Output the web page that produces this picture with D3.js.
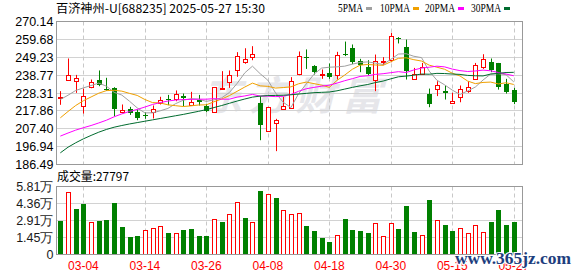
<!DOCTYPE html>
<html>
<head>
<meta charset="utf-8">
<script src="https://cdn.jsdelivr.net/npm/d3@7"></script>
<style>
body { margin: 0; background: #fff; }
svg { display: block; }
.lbl { font-family: "Liberation Sans", Arial, sans-serif; }
</style>
</head>
<body>
<div id="chart"></div>
<script>
var dates = ["02-27", "02-28", "03-03", "03-04", "03-05", "03-06", "03-07", "03-10", "03-11", "03-12",
    "03-13", "03-14", "03-17", "03-18", "03-19", "03-20", "03-21", "03-24", "03-25", "03-26",
    "03-27", "03-28", "03-31", "04-01", "04-02", "04-03", "04-07", "04-08", "04-09", "04-10",
    "04-11", "04-14", "04-15", "04-16", "04-17", "04-18", "04-21", "04-22", "04-23", "04-24",
    "04-25", "04-28", "04-29", "04-30", "05-06", "05-07", "05-08", "05-09", "05-12", "05-13",
    "05-14", "05-15", "05-16", "05-19", "05-20", "05-21", "05-22", "05-23", "05-26", "05-27"];

var openP = [225.3, 236.0, 235.4, 221.0, 232.1, 236.0, 230.5, 231.3, 217.1, 219.2,
    217.3, 215.5, 217.1, 222.6, 224.7, 224.9, 226.3, 221.6, 224.5, 220.8,
    217.3, 231.1, 235.0, 241.5, 246.3, 249.5, 222.2, 206.0, 210.9, 219.4,
    219.6, 238.9, 249.5, 244.4, 238.9, 240.3, 239.1, 251.2, 254.9, 246.9,
    243.6, 236.0, 246.7, 247.7, 260.2, 255.3, 236.6, 239.5, 228.0, 230.7,
    229.2, 222.7, 226.1, 229.4, 236.6, 243.4, 246.5, 245.6, 233.3, 230.3];
var highP = [229.4, 248.5, 238.9, 230.9, 236.2, 241.5, 237.2, 231.7, 221.6, 220.2,
    218.7, 217.1, 221.0, 226.1, 227.2, 229.8, 228.0, 229.0, 227.2, 222.0,
    231.7, 241.1, 241.5, 252.2, 254.5, 255.7, 226.5, 220.2, 213.2, 226.1,
    237.6, 252.6, 253.8, 244.6, 242.1, 245.6, 252.4, 258.4, 256.7, 248.3,
    247.5, 250.8, 249.3, 263.5, 261.0, 259.6, 243.0, 245.9, 230.9, 235.2,
    232.9, 228.4, 232.7, 235.2, 245.9, 251.0, 248.5, 245.9, 236.6, 231.3];
var lowP = [221.4, 235.6, 228.4, 216.3, 231.1, 232.3, 229.6, 214.7, 216.5, 215.5,
    212.4, 213.2, 213.4, 221.6, 221.2, 223.5, 220.6, 221.0, 221.0, 217.1,
    217.1, 230.9, 231.3, 237.8, 245.4, 247.5, 200.7, 205.8, 194.3, 219.4,
    219.4, 238.7, 242.4, 239.1, 236.6, 236.6, 236.2, 249.9, 245.2, 240.5,
    238.7, 229.4, 244.6, 246.3, 257.3, 236.2, 236.6, 239.1, 220.0, 226.5,
    224.5, 222.6, 222.9, 228.4, 236.2, 242.4, 240.5, 230.3, 228.0, 221.8];
var closeP = [226.1, 238.9, 237.2, 226.6, 234.8, 233.1, 230.0, 219.0, 218.5, 217.1,
    213.6, 215.2, 219.0, 224.5, 224.1, 227.6, 225.3, 223.3, 223.3, 217.7,
    231.7, 231.5, 238.9, 249.9, 248.3, 251.4, 209.3, 220.2, 212.8, 221.0,
    235.6, 249.7, 249.1, 240.9, 239.3, 238.2, 250.6, 250.8, 246.9, 244.4,
    239.7, 247.1, 247.1, 261.6, 259.8, 241.1, 239.3, 243.4, 222.0, 233.1,
    227.8, 223.9, 230.7, 231.9, 244.6, 248.3, 241.7, 231.7, 228.8, 223.5];

var ma5 = [224.5, 227.0, 229.8, 231.3, 232.7, 234.1, 232.3, 228.7, 227.1, 223.5,
    219.6, 216.7, 216.7, 217.9, 219.3, 222.1, 224.1, 225.0, 224.7, 223.4,
    224.3, 225.5, 228.6, 233.9, 240.1, 244.0, 239.6, 235.8, 228.4, 222.9,
    219.8, 227.9, 233.6, 239.3, 242.9, 243.4, 243.6, 244.0, 245.2, 246.2,
    246.5, 245.8, 245.0, 248.0, 251.1, 251.3, 249.8, 249.0, 241.1, 235.8,
    233.1, 230.0, 227.5, 229.5, 231.8, 235.9, 239.4, 239.6, 239.0, 234.8];
var ma10 = [213.8, 217.5, 221.0, 223.8, 226.0, 228.2, 229.7, 229.9, 229.4, 228.1,
    226.9, 224.5, 222.7, 222.5, 221.4, 220.9, 220.4, 220.8, 221.3, 221.4,
    223.2, 224.8, 226.8, 229.3, 231.8, 234.1, 232.5, 232.2, 231.2, 231.5,
    231.9, 233.7, 234.7, 233.8, 232.9, 231.6, 235.7, 238.8, 242.2, 244.6,
    245.0, 244.7, 244.5, 246.6, 248.6, 248.9, 247.8, 247.0, 244.6, 243.4,
    242.2, 239.9, 238.3, 235.3, 233.8, 234.5, 234.7, 233.6, 234.3, 233.3];
var ma20 = [203.1, 204.9, 206.6, 208.0, 209.3, 210.8, 212.4, 214.4, 216.1, 217.5,
    218.7, 220.1, 221.6, 222.7, 223.6, 224.2, 224.5, 224.6, 224.7, 224.7,
    225.0, 224.7, 224.7, 225.9, 226.6, 227.5, 226.5, 226.5, 226.2, 226.4,
    227.5, 229.3, 230.8, 231.6, 232.3, 232.9, 234.1, 235.5, 236.7, 238.0,
    238.4, 239.2, 239.6, 240.2, 240.8, 240.3, 241.8, 242.9, 243.4, 244.0,
    243.6, 242.3, 241.4, 240.9, 241.2, 241.7, 241.3, 240.3, 239.4, 238.4];
var ma30 = [193.3, 196.6, 199.2, 201.5, 203.5, 205.4, 207.0, 208.3, 209.3, 210.2,
    211.0, 211.8, 212.6, 213.4, 214.2, 215.0, 215.8, 216.7, 217.6, 218.6,
    219.8, 221.0, 222.3, 223.6, 224.8, 225.9, 226.5, 226.8, 226.9, 227.0,
    227.3, 227.7, 228.1, 228.5, 228.7, 228.9, 229.6, 230.6, 231.6, 232.5,
    233.3, 234.4, 235.3, 236.6, 237.8, 238.2, 238.7, 239.4, 239.3, 239.8,
    239.7, 239.4, 239.2, 238.6, 238.4, 238.3, 239.4, 239.8, 240.3, 240.4];

// 成交量 (万)
var vol = [2.85, 5.36, 3.86, 4.29, 2.76, 2.85, 2.93, 4.37, 2.34, 1.49,
    1.58, 2.09, 2.23, 2.40, 1.83, 1.83, 2.09, 2.17, 1.58, 1.58,
    3.07, 2.76, 3.44, 4.51, 3.10, 2.76, 5.39, 5.13, 4.79, 3.84,
    3.44, 3.58, 2.43, 2.00, 1.38, 1.07, 1.64, 3.02, 2.09, 2.00,
    1.83, 2.65, 1.55, 2.65, 2.17, 4.12, 1.92, 1.64, 4.62, 2.93,
    2.51, 2.00, 2.23, 1.83, 2.48, 1.92, 2.76, 3.78, 2.51, 2.78];
var volDir = "g r g g r g g g g g g r r r g r g g g g r g r r g r g r g r r r g g g g r g g g g r r r g g g r g r g g r r r r g g g g".split(" ");

var priceTicks = [270.14, 259.68, 249.23, 238.77, 228.31, 217.86, 207.40, 196.94, 186.49];
var volTicks = [0, 1.45, 2.91, 4.36, 5.81];
var dateTicks = ["03-04", "03-14", "03-26", "04-08", "04-18", "04-30", "05-15", "05-27"];

var maNames = ["5PMA", "10PMA", "20PMA", "30PMA"];
var maColors = ["#a0a0a0", "#f0a000", "#ff00ff", "#006b2e"];
var maData = [ma5, ma10, ma20, ma30];

var W = 578, H = 276;
var left = 56.5, right = 522.5;
var red = "#ff0000", green = "#008000";

var svg = d3.select("#chart").append("svg")
    .attr("width", W)
    .attr("height", H);

svg.append("rect").attr("width", W).attr("height", H).attr("fill", "#fff");

var xScale = d3.scaleBand()
    .domain(dates)
    .range([left, left + dates.length * 7.685]);
var cx = function (d) { return Math.round(xScale(d) + xScale.bandwidth() / 2) + 0.5; };

var yScale = d3.scaleLinear().domain([186.49, 270.14]).range([164.5, 21.5]);
var vScale = d3.scaleLinear().domain([0, 5.81]).range([254.5, 186.5]);

// watermark
svg.append("text")
    .attr("x", 292)
    .attr("y", 110)
    .attr("text-anchor", "middle")
    .style("font-family", "Noto Sans CJK SC")
    .style("font-size", "40px")
    .style("font-weight", "bold")
    .style("font-style", "italic")
    .attr("fill", "#e6e6ea")
    .attr("textLength", 180)
    .text("东方财富");

// grid lines
function grid(ticks, scale, y0, y1) {
    svg.append("g").selectAll("line")
        .data(ticks.slice(1, -1))
        .enter().append("line")
        .attr("x1", left).attr("x2", right)
        .attr("y1", function (d) { return Math.round(scale(d) - 0.5) + 0.5; })
        .attr("y2", function (d) { return Math.round(scale(d) - 0.5) + 0.5; })
        .attr("stroke", "#d2d2d2");
    svg.append("g").selectAll("line")
        .data(dateTicks)
        .enter().append("line")
        .attr("x1", cx).attr("x2", cx)
        .attr("y1", y0).attr("y2", y1)
        .attr("stroke", "#c8c8c8")
        .attr("stroke-dasharray", "4,3");
}
grid(priceTicks.slice().reverse(), yScale, 21.5, 164.5);
grid(volTicks, vScale, 186.5, 254.5);

// candles
var idx = d3.range(dates.length);
var candles = svg.append("g");
candles.selectAll(".wick")
    .data(idx)
    .enter().append("line")
    .attr("class", "wick")
    .attr("x1", function (i) { return cx(dates[i]); })
    .attr("x2", function (i) { return cx(dates[i]); })
    .attr("y1", function (i) { return yScale(highP[i]); })
    .attr("y2", function (i) { return yScale(lowP[i]); })
    .attr("stroke", function (i) { return closeP[i] >= openP[i] ? red : green; });

candles.selectAll(".body")
    .data(idx)
    .enter().append("rect")
    .attr("class", "body")
    .attr("x", function (i) { return closeP[i] >= openP[i] ? cx(dates[i]) - 2 : cx(dates[i]) - 2.5; })
    .attr("y", function (i) {
        var t = Math.round(yScale(Math.max(openP[i], closeP[i])));
        return closeP[i] >= openP[i] ? t + 0.5 : t;
    })
    .attr("width", function (i) { return closeP[i] >= openP[i] ? 4 : 5; })
    .attr("height", function (i) {
        var h = Math.round(yScale(Math.min(openP[i], closeP[i])) - yScale(Math.max(openP[i], closeP[i])));
        return closeP[i] >= openP[i] ? Math.max(h, 1) : Math.max(h, 1);
    })
    .attr("fill", function (i) { return closeP[i] >= openP[i] ? "#fff" : green; })
    .attr("stroke", function (i) { return closeP[i] >= openP[i] ? red : "none"; });

// moving averages
var line = d3.line()
    .x(function (d, i) { return xScale(dates[i]) + xScale.bandwidth() / 2; })
    .y(function (d) { return yScale(d); });
svg.append("g").selectAll("path")
    .data(maData)
    .enter().append("path")
    .attr("d", line)
    .attr("fill", "none")
    .attr("stroke", function (d, i) { return maColors[i]; })
    .attr("stroke-width", 1);

// volume bars
svg.append("g").selectAll("rect")
    .data(idx)
    .enter().append("rect")
    .attr("x", function (i) { return volDir[i] == "r" ? cx(dates[i]) - 2 : cx(dates[i]) - 2.5; })
    .attr("y", function (i) { return volDir[i] == "r" ? Math.round(vScale(vol[i])) + 0.5 : Math.round(vScale(vol[i])); })
    .attr("width", function (i) { return volDir[i] == "r" ? 4 : 5; })
    .attr("height", function (i) { return vScale(0) - Math.round(vScale(vol[i])) - (volDir[i] == "r" ? 0.5 : 0); })
    .attr("fill", function (i) { return volDir[i] == "r" ? "#fff" : green; })
    .attr("stroke", function (i) { return volDir[i] == "r" ? red : "none"; });

// frames
svg.append("rect").attr("x", left).attr("y", 21.5).attr("width", right - left).attr("height", 143)
    .attr("fill", "none").attr("stroke", "#999");
svg.append("rect").attr("x", left).attr("y", 186.5).attr("width", right - left).attr("height", 68)
    .attr("fill", "none").attr("stroke", "#999");

// axes
var yAxis = svg.append("g")
    .attr("class", "lbl")
    .attr("transform", "translate(" + left + ",0)")
    .call(d3.axisLeft(yScale).tickValues(priceTicks).tickSize(0).tickPadding(3).tickFormat(d3.format(".2f")));
yAxis.select(".domain").remove();
yAxis.selectAll("text").style("font-size", "12.5px").attr("fill", "#000");

var vAxis = svg.append("g")
    .attr("class", "lbl")
    .attr("transform", "translate(" + left + ",0)")
    .call(d3.axisLeft(vScale).tickValues(volTicks).tickSize(0).tickPadding(3)
        .tickFormat(function (d) { return d === 0 ? "0" : d.toFixed(2) + "万"; }));
vAxis.select(".domain").remove();
vAxis.selectAll("text").style("font-size", "12.5px").attr("fill", "#1a1a1a");

var xAxis = svg.append("g")
    .attr("class", "lbl")
    .attr("transform", "translate(0,254.5)")
    .call(d3.axisBottom(xScale).tickValues(dateTicks).tickSize(0).tickPadding(7));
xAxis.select(".domain").remove();
xAxis.selectAll("text").style("font-size", "12px").attr("fill", red);

// title + legend
svg.append("text")
    .attr("x", 56)
    .attr("y", 13)
    .style("font-family", "Noto Sans CJK SC")
    .style("font-size", "12px")
    .attr("textLength", 209)
    .attr("lengthAdjust", "spacingAndGlyphs")
    .text("百济神州-U[688235] 2025-05-27 15:30");

var legX = [338, 380, 425, 471];
var legW = [25, 30, 30, 30];
maNames.forEach(function (n, i) {
    svg.append("text")
        .attr("x", legX[i])
        .attr("y", 12)
        .style("font-family", "Liberation Serif")
        .style("font-size", "12px")
        .attr("textLength", legW[i])
        .attr("lengthAdjust", "spacingAndGlyphs")
        .text(n);
    svg.append("rect")
        .attr("x", legX[i] + legW[i] + 3)
        .attr("y", 7)
        .attr("width", 6)
        .attr("height", 3)
        .attr("fill", maColors[i]);
});

svg.append("text")
    .attr("x", 57)
    .attr("y", 181)
    .style("font-family", "Noto Sans CJK SC")
    .style("font-size", "12px")
    .attr("textLength", 72)
    .attr("lengthAdjust", "spacingAndGlyphs")
    .text("成交量:27797");

svg.append("text")
    .attr("x", 455)
    .attr("y", 264)
    .style("font-family", "Liberation Serif")
    .style("font-size", "17px")
    .style("font-weight", "bold")
    .attr("fill", "#1d3e7e")
    .attr("stroke", "#fff")
    .attr("stroke-width", 2)
    .attr("paint-order", "stroke")
    .attr("textLength", 116)
    .attr("lengthAdjust", "spacingAndGlyphs")
    .text("www.365jz.com");
</script>
</body>
</html>
